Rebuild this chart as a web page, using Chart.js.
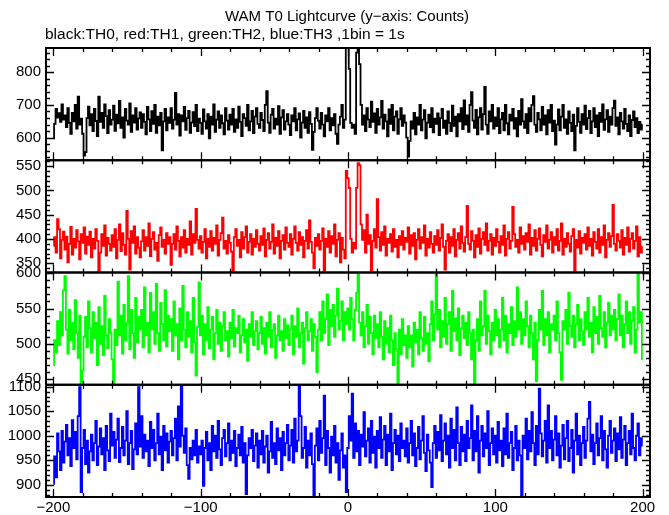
<!DOCTYPE html>
<html><head><meta charset="utf-8">
<script src="https://cdn.jsdelivr.net/npm/chart.js@4.4.1/dist/chart.umd.min.js"></script>
<style>html,body{margin:0;padding:0;background:#fff}canvas{display:block}</style>
</head><body>
<canvas id="c" width="669" height="515"></canvas>
<script>
const titleText = 'WAM T0 Lightcurve (y\u2212axis: Counts)';
const subtitleText = 'black:TH0, red:TH1, green:TH2, blue:TH3 ,1bin = 1s';
const binStart = -200;   // first bin time (s)
const binWidth = 1;      // 1bin = 1s

const th0 = [
598,642,688,661,675,648,702,655,668,632,690,645,612,676,650,700,628,725,640,658,
612,545,556,660,695,638,672,620,688,651,605,725,648,676,630,702,666,614,684,640,
655,698,621,670,644,712,630,662,600,688,652,640,705,618,668,646,690,625,659,677,
630,672,648,610,694,656,620,681,642,700,615,664,638,676,561,650,688,622,662,645,
690,628,655,737,640,672,606,668,650,694,624,660,682,615,646,678,635,700,620,658,
645,612,686,650,628,672,598,664,640,702,618,655,680,630,668,644,610,690,652,625,
670,640,688,618,656,630,695,648,605,672,660,636,700,622,650,682,614,664,690,642,
630,676,654,620,700,742,646,615,670,688,628,658,640,696,612,662,684,625,650,672,
640,608,668,650,690,622,656,674,600,646,682,630,662,615,678,642,563,618,660,690,
652,628,676,640,604,668,650,690,622,660,638,672,612,581,640,664,700,630,655,900,
900,810,645,630,640,612,860,900,825,700,640,668,620,690,655,632,710,648,674,615,
688,640,662,712,628,670,650,604,686,642,700,622,664,680,612,656,690,636,668,646,
600,542,590,650,628,676,610,662,640,700,622,655,684,598,646,670,632,690,616,658,
642,674,608,660,688,630,652,612,680,645,620,698,636,664,604,672,650,690,626,714,
640,668,618,700,739,652,630,685,610,662,690,625,672,755,640,612,680,650,700,628,
662,635,690,614,656,676,622,700,644,610,670,652,688,628,660,604,682,640,718,650,
630,672,614,690,650,700,727,640,618,676,656,622,694,640,668,610,684,646,700,620,
652,579,640,686,622,664,700,630,656,612,680,645,620,670,561,636,690,648,615,672,
640,698,626,660,682,614,650,690,632,668,605,676,648,702,624,656,684,618,664,640,
690,713,636,662,610,676,650,628,688,642,620,668,605,654,680,632,660,614,648,625,
640];

const th1 = [
386,404,372,441,420,360,398,415,378,405,352,390,425,368,400,382,418,395,358,410,
392,424,370,405,388,415,362,400,380,420,396,334,372,410,386,428,366,402,390,376,
408,384,420,360,398,430,375,412,388,368,458,400,337,416,392,426,370,404,382,362,
395,418,376,404,386,432,365,400,414,378,392,355,408,424,384,398,370,412,390,404,
347,390,410,378,426,396,364,404,382,418,372,400,388,436,368,410,392,462,398,380,
406,372,394,420,360,400,384,416,376,402,390,428,366,398,412,444,380,396,370,408,
392,374,334,404,420,386,398,362,414,380,404,426,372,394,410,368,400,384,418,390,
376,406,388,422,364,398,412,380,394,430,370,402,386,416,360,396,408,378,424,392,
384,410,368,400,426,392,376,414,388,404,362,396,418,380,438,394,372,340,402,386,
410,378,396,422,334,400,384,416,372,406,390,430,364,398,412,352,402,378,360,540,
525,505,400,372,392,380,505,556,552,430,398,418,372,450,390,408,334,396,420,382,
482,404,376,414,388,426,366,400,392,410,374,420,384,398,362,406,388,416,378,402,
394,424,370,408,386,412,358,398,420,380,404,392,428,366,400,382,414,390,372,406,
388,418,376,402,430,384,337,396,410,372,404,386,420,364,398,412,380,426,392,374,
404,468,390,378,416,396,362,408,384,422,370,400,414,388,432,376,396,410,368,402,
386,420,394,372,406,388,428,366,400,414,380,396,466,410,384,398,372,424,390,406,
378,412,394,430,368,402,386,418,376,400,422,388,364,408,394,428,380,398,414,372,
404,388,420,376,396,432,368,400,384,412,390,374,406,420,334,398,382,416,370,402,
392,410,378,424,386,400,366,414,394,380,420,372,404,388,428,362,398,412,384,406,
470,390,376,410,396,382,418,368,402,388,424,374,400,412,380,396,426,364,404,372,
384];

const th2 = [
470,505,488,532,498,545,512,576,596,520,486,548,505,530,492,562,515,480,540,444,
462,510,538,495,560,522,488,545,508,530,470,552,500,525,484,568,512,494,535,515,
478,444,520,498,588,512,540,486,555,505,530,596,492,548,515,480,565,502,538,520,
548,495,580,512,530,488,572,520,545,500,585,515,490,558,528,505,576,496,540,518,
535,490,560,512,528,478,550,505,582,520,495,545,510,532,488,565,502,455,524,587,
512,540,485,528,505,552,494,520,538,478,515,548,500,530,490,525,545,505,518,482,
530,508,548,496,522,515,540,488,512,535,502,520,476,528,510,545,498,518,532,492,
515,538,500,522,486,530,510,545,495,520,528,480,512,540,505,518,490,535,508,526,
498,520,540,485,525,510,550,495,515,530,472,522,545,505,518,535,490,528,510,460,
520,545,505,560,515,535,570,498,548,525,555,510,540,578,520,532,560,505,545,528,
550,520,565,535,505,548,572,601,530,512,545,495,525,555,500,538,515,485,540,508,
528,495,545,510,478,532,500,522,488,540,505,470,515,492,444,520,485,535,498,512,
480,525,495,512,468,530,502,520,485,545,508,490,538,500,515,475,528,560,505,542,
601,520,548,495,532,510,565,500,528,545,490,575,518,536,505,550,484,522,540,508,
530,498,545,515,478,520,444,505,535,490,560,512,525,575,500,540,518,485,530,505,
548,512,535,495,520,565,505,540,488,528,515,552,498,532,510,580,520,545,500,535,
512,560,525,495,540,515,478,530,447,505,548,520,575,498,535,512,545,488,528,520,
540,505,560,515,488,449,532,520,548,500,572,525,510,540,495,528,555,505,535,518,
498,545,520,565,510,530,488,552,515,538,500,568,522,510,545,495,530,558,512,540,
520,548,505,535,570,512,540,495,528,560,515,545,500,532,552,488,520,601,530,545,
478];

const th3 = [
902,958,915,1005,968,930,1010,945,988,1022,960,995,938,1032,975,1008,952,1040,1099,885,
975,1012,942,990,925,968,1002,950,985,1030,940,978,1015,962,995,930,1020,970,948,1045,
980,1008,955,992,1035,946,975,1018,960,990,1050,942,985,1010,932,972,1025,962,1099,978,
1040,955,1002,968,990,938,1028,975,1012,950,985,1045,962,998,930,1020,970,1005,945,988,
1010,960,995,1035,950,1060,978,1102,1000,965,1015,940,912,975,952,990,960,1012,945,978,
962,990,898,975,1008,950,985,930,1020,968,1000,955,1030,972,940,995,1012,958,985,1025,
950,990,965,1010,938,975,1002,960,1018,945,985,881,960,995,975,1012,948,980,1005,935,
990,962,1010,945,978,1000,925,968,1028,955,985,942,1015,970,995,930,1008,960,985,1022,
950,980,1012,945,1035,968,990,1102,1040,955,975,1018,935,990,960,1005,942,878,980,1015,
950,1030,965,995,1082,940,1010,975,925,998,960,1020,945,985,910,970,1005,935,960,885,
975,1040,990,1086,955,1025,968,1010,940,1002,978,1048,958,990,1015,945,1030,965,998,935,
1010,975,1038,955,992,1020,940,1002,968,1045,930,985,1012,962,1000,948,1025,975,990,958,
1015,945,985,1030,960,1005,938,975,1018,952,990,1040,965,928,1002,970,945,895,985,1020,
955,1008,970,1042,948,990,1025,962,1000,935,1035,975,1012,950,1058,985,940,1018,968,1002,
948,1030,975,995,1062,950,1010,968,1040,925,990,1020,958,1005,975,1050,940,985,1015,962,
1000,945,1028,970,990,938,1015,962,1045,955,985,1008,930,975,1020,950,990,960,878,1000,
975,1035,952,1010,968,1048,985,940,1020,962,1096,1005,958,990,1030,945,1062,975,1010,950,
992,1040,960,1005,935,980,1022,952,995,1030,948,975,1012,925,990,1045,962,1000,940,985,
1018,955,990,1035,1069,968,1002,942,985,1025,960,995,1040,950,1010,972,935,1000,1030,965,
990,1015,948,1005,972,1038,955,992,1020,940,985,1010,962,1045,975,950,1000,1025,960,995,
980];

// tick labels
const xTicks = [-200, -100, 0, 100, 200];
const xMinorStep = 20;
const y0Ticks = [600, 700, 800];
const y1Ticks = [350, 400, 450, 500, 550];
const y2Ticks = [450, 500, 550, 600];
const y3Ticks = [900, 950, 1000, 1050, 1100];

const FONT = 'Liberation Sans';

const panels = [
  {id: 'y0', data: th0, color: '#000000', min: 531, max: 874, ticks: y0Ticks, minor: 20},
  {id: 'y1', data: th1, color: '#ff0000', min: 331, max: 562, ticks: y1Ticks, minor: 10},
  {id: 'y2', data: th2, color: '#00ff00', min: 442, max: 601, ticks: y2Ticks, minor: 10},
  {id: 'y3', data: th3, color: '#0000ff', min: 875, max: 1104, ticks: y3Ticks, minor: 10}
];

const toPoints = arr => arr.map((v, i) => ({x: binStart + i * binWidth, y: v}));

const scales = {
  x: {
    type: 'linear', min: -205, max: 205, bounds: 'data',
    grid: {display: false, drawTicks: false}, border: {display: false},
    afterBuildTicks: s => { s.ticks = xTicks.map(v => ({value: v})); },
    afterFit: s => { s.height = 18; },
    ticks: {
      autoSkip: false, maxRotation: 0, padding: 2, color: '#000',
      font: {family: FONT, size: 15},
      callback: v => (v < 0 ? '\u2212' + Math.abs(v) : String(v))
    }
  }
};
// stacked y axes (defined bottom panel first)
[...panels].reverse().forEach(p => {
  scales[p.id] = {
    type: 'linear', position: 'left', stack: 'lc', stackWeight: 1,
    min: p.min, max: p.max, bounds: 'data',
    grid: {display: false, drawTicks: false}, border: {display: false},
    afterBuildTicks: s => { s.ticks = p.ticks.map(v => ({value: v})); },
    afterFit: s => { s.width = 46; },
    ticks: {autoSkip: false, padding: 5, color: '#000', font: {family: FONT, size: 15},
            callback: v => String(v)}
  };
});

const panelClip = {
  id: 'panelClip',
  beforeDatasetDraw(chart, args) {
    const ds = chart.data.datasets[args.index];
    const ys = chart.scales[ds.yAxisID];
    const ca = chart.chartArea;
    const ctx = chart.ctx;
    ctx.save();
    ctx.beginPath();
    ctx.rect(ca.left, ys.top, ca.right - ca.left, ys.bottom - ys.top);
    ctx.clip();
  },
  afterDatasetDraw(chart) { chart.ctx.restore(); }
};

const frame = {
  id: 'frame',
  afterDatasetsDraw(chart) {
    const {ctx, chartArea: ca} = chart;
    const xs = chart.scales.x;
    ctx.save();
    ctx.strokeStyle = '#000';
    panels.forEach(p => {
      const ys = chart.scales[p.id];
      const top = ys.top, bot = ys.bottom;
      ctx.lineWidth = 1.3;
      ctx.beginPath();
      for (let v = Math.ceil(ys.min / p.minor) * p.minor; v <= ys.max; v += p.minor) {
        const y = Math.round(ys.getPixelForValue(v)) + 0.5;
        const len = p.ticks.includes(v) ? 8 : 4;
        ctx.moveTo(ca.left, y); ctx.lineTo(ca.left + len, y);
        ctx.moveTo(ca.right, y); ctx.lineTo(ca.right - len, y);
      }
      for (let v = Math.ceil(xs.min / xMinorStep) * xMinorStep; v <= xs.max; v += xMinorStep) {
        const x = Math.round(xs.getPixelForValue(v)) + 0.5;
        const len = xTicks.includes(v) ? 8 : 4;
        ctx.moveTo(x, top); ctx.lineTo(x, top + len);
        ctx.moveTo(x, bot); ctx.lineTo(x, bot - len);
      }
      ctx.stroke();
      ctx.lineWidth = 2;
      ctx.strokeRect(ca.left, top, ca.right - ca.left, bot - top);
    });
    ctx.restore();
  }
};

const titles = {
  id: 'titles',
  afterDraw(chart) {
    const ctx = chart.ctx;
    ctx.save();
    ctx.fillStyle = '#000';
    ctx.font = '15px "' + FONT + '"';
    ctx.textBaseline = 'middle';
    ctx.textAlign = 'center';
    ctx.fillText(titleText, 347, 17);
    ctx.textAlign = 'left';
    ctx.font = '15.5px "' + FONT + '"';
    ctx.fillText(subtitleText, 45, 35);
    ctx.restore();
  }
};

new Chart(document.getElementById('c'), {
  type: 'line',
  data: {
    datasets: panels.map(p => ({
      data: toPoints(p.data), yAxisID: p.id, xAxisID: 'x',
      borderColor: p.color, borderWidth: 1.8, pointRadius: 0,
      stepped: 'middle', fill: false
    }))
  },
  options: {
    responsive: false, animation: false, devicePixelRatio: 1,
    parsing: false, normalized: true,
    layout: {padding: {top: 48, right: 19, left: 0, bottom: 0}},
    plugins: {legend: {display: false}, tooltip: {enabled: false}, title: {display: false}},
    events: [],
    scales
  },
  plugins: [panelClip, frame, titles]
});
</script>
</body></html>
